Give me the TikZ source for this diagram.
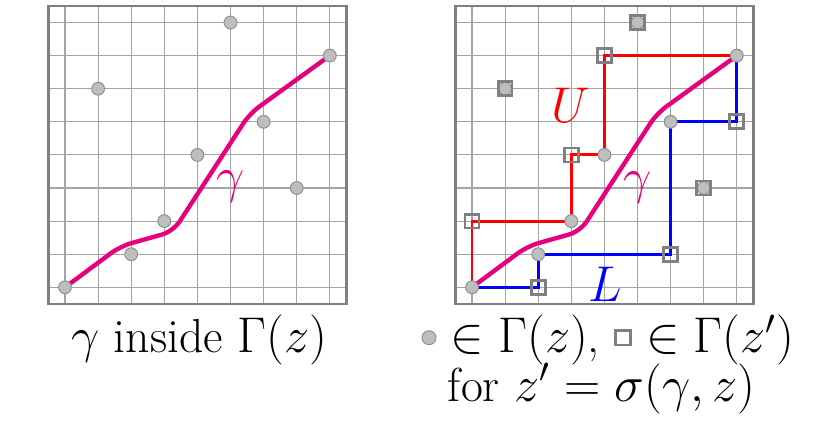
\documentclass[tikz,border=0pt]{standalone}
\usepackage{amsmath}
\definecolor{gam}{RGB}{230,0,126}
\definecolor{gridc}{RGB}{165,165,165}
\definecolor{framec}{RGB}{128,128,128}
\definecolor{dotfill}{RGB}{190,190,190}
\definecolor{dotdraw}{RGB}{145,145,145}
\tikzset{
  gridline/.style={gridc, line width=0.4pt},
  framebox/.style={framec, line width=0.9pt},
  pt/.style={circle, fill=dotfill, draw=dotdraw, line width=0.35pt, inner sep=0pt, minimum size=4.4pt},
  sq/.style={rectangle, draw=framec, line width=0.95pt, inner sep=0pt, minimum size=4.8pt},
  gampath/.style={gam, line width=1.5pt, rounded corners=4pt, line cap=round},
  upath/.style={red, line width=1pt},
  lpath/.style={blue, line width=1pt},
  biglabel/.style={font=\fontsize{17.5}{21}\selectfont, inner sep=0pt},
  captext/.style={font=\fontsize{16.4}{19}\selectfont, anchor=base, inner sep=0pt},
}
\begin{document}
\begin{tikzpicture}[x=0.4cm,y=0.4cm]
\useasboundingbox (-1.964,-4.221) rectangle (23.142,8.680);
% ---------- left panel ----------
\begin{scope}
  \foreach \k in {0,...,8} {
    \draw[gridline] (\k,-0.5) -- (\k,8.5);
    \draw[gridline] (-0.5,\k) -- (8.5,\k);
  }
  \draw[framebox] (-0.5,-0.5) rectangle (8.5,8.5);
  \foreach \i/\j in {0/0,1/6,2/1,3/2,4/4,5/8,6/5,7/3,8/7}
    \coordinate (a\i) at (\i,\j);
  \coordinate (ab1) at (1.67,1.24);
  \coordinate (ab2) at (3.27,1.69);
  \coordinate (ab3) at (5.58,5.25);
  \draw[gampath] (a0) -- (ab1) -- (ab2) -- (ab3) -- (a8);
  \node[biglabel, text=gam] (agl) at (5,3.05) {$\gamma$};
  \foreach \i in {0,...,8} \node[pt] (ap\i) at (a\i) {};
\end{scope}
% ---------- right panel ----------
\begin{scope}[xshift=12.296*0.4cm]
  \foreach \k in {0,...,8} {
    \draw[gridline] (\k,-0.5) -- (\k,8.5);
    \draw[gridline] (-0.5,\k) -- (8.5,\k);
  }
  \draw[framebox] (-0.5,-0.5) rectangle (8.5,8.5);
  \foreach \i/\j in {0/0,1/6,2/1,3/2,4/4,5/8,6/5,7/3,8/7}
    \coordinate (b\i) at (\i,\j);
  \foreach \n/\i/\j in {0/0/2,1/1/6,2/2/0,3/3/4,4/4/7,5/5/8,6/6/1,7/7/3,8/8/5}
    \coordinate (s\n) at (\i,\j);
  \coordinate (bb1) at (1.67,1.24);
  \coordinate (bb2) at (3.27,1.69);
  \coordinate (bb3) at (5.58,5.25);
  \draw[upath] (b0) -- (s0) -- (b3) -- (s3) -- (b4) -- (s4) -- (b8);
  \draw[lpath] (b0) -- (s2) -- (b2) -- (s6) -- (b6) -- (s8) -- (b8);
  \draw[gampath] (b0) -- (bb1) -- (bb2) -- (bb3) -- (b8);
  \node[biglabel, text=gam] (bgl) at (5,3.0) {$\gamma$};
  \node[biglabel, text=red] (ul) at (3,5.5) {$U$};
  \node[biglabel, text=blue] (ll) at (4.02,0.1) {$L$};
  \foreach \i in {0,...,8} \node[pt] (bp\i) at (b\i) {};
  \foreach \n in {0,...,8} \node[sq] (sq\n) at (s\n) {};
\end{scope}
% ---------- captions ----------
\node[captext] (capl) at (4.05,-1.97) {$\gamma$ inside $\Gamma(z)$};
\node[captext, text depth=3pt] (capr1) at (16.40,-1.98) {\tikz[baseline=-5.2pt]\node[pt, minimum size=4.8pt]{}; $\in\Gamma(z)$, \tikz[baseline=-5.2pt]\node[sq, minimum size=5pt]{}; $\in\Gamma(z')$};
\node[captext] (capr2) at (16.21,-3.44) {for $z'=\sigma(\gamma,z)$};
\end{tikzpicture}
\end{document}
